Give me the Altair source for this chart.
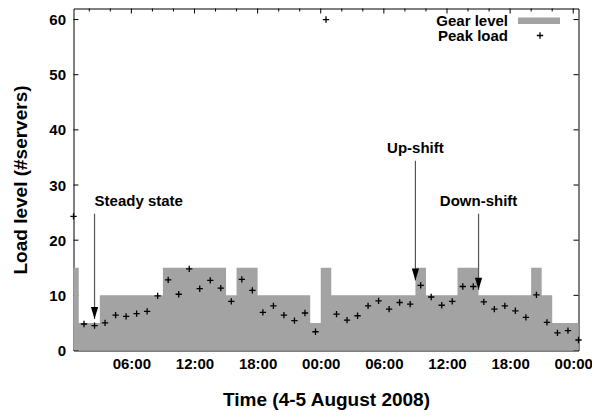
import altair as alt
import pandas as pd

# ---- data (hours since 4 Aug 2008 00:00) ----
gear_times = [0.5, 1, 3, 9, 15, 16, 18, 23, 24, 25, 33, 34, 37, 39, 44, 45, 46, 48.5]
gear_levels = [15, 5, 10, 15, 10, 15, 10, 5, 15, 10, 15, 10, 15, 10, 15, 10, 5, 5]

load_times = [0.5, 1.5, 2.5, 3.5, 4.5, 5.5, 6.5, 7.5, 8.5, 9.5, 10.5, 11.5, 12.5,
              13.5, 14.5, 15.5, 16.5, 17.5, 18.5, 19.5, 20.5, 21.5, 22.5, 23.5,
              24.5, 25.5, 26.5, 27.5, 28.5, 29.5, 30.5, 31.5, 32.5, 33.5, 34.5,
              35.5, 36.5, 37.5, 38.5, 39.5, 40.5, 41.5, 42.5, 43.5, 44.5, 45.5,
              46.5, 47.5, 48.5]
peak_load = [24.3, 4.8, 4.5, 5.0, 6.4, 6.2, 6.7, 7.1, 9.9, 12.8, 10.2, 14.8, 11.2,
             12.7, 11.3, 8.9, 12.9, 10.9, 6.9, 8.1, 6.4, 5.4, 6.8, 3.4,
             60.0, 6.6, 5.5, 6.3, 8.1, 9.0, 7.5, 8.7, 8.4, 11.8, 9.7,
             8.2, 8.9, 11.6, 11.6, 8.8, 7.5, 8.1, 7.2, 6.0, 10.1, 5.1,
             3.2, 3.6, 1.9]

x_tick_values = [6, 12, 18, 24, 30, 36, 42, 48]
x_tick_labels = ["06:00", "12:00", "18:00", "00:00", "06:00", "12:00", "18:00", "00:00"]
x_minor_ticks = [2, 4, 8, 10, 14, 16, 20, 22, 26, 28, 32, 34, 38, 40, 44, 46]
y_tick_values = [0, 10, 20, 30, 40, 50, 60]

ann_text = ["Steady state", "Up-shift", "Down-shift"]
ann_x = [2.5, 33, 39]
ann_text_y = [27.1, 36.8, 27.1]
arrow_top = [24.8, 34.4, 24.8]
arrow_tip = [5.7, 12.7, 11.0]

legend_labels = ["Gear level", "Peak load"]

# ---- layout / style ----
W, H = 505, 342
FONT = "Liberation Sans"
GRAY = "#a3a3a3"
PLUS = "M-1,0L1,0M0,-1L0,1"
HEAD = "M-0.3,-1L0.3,-1L0,0Z"

xscale = alt.Scale(domain=[0.5, 48.5], nice=False, zero=False)
yscale = alt.Scale(domain=[0, 62], nice=False, zero=True)

label_expr = "''"
for v, l in reversed(list(zip(x_tick_values, x_tick_labels))):
    label_expr = f"datum.value == {v} ? '{l}' : ({label_expr})"

x_axis = alt.Axis(values=x_tick_values, labelExpr=label_expr,
                  title="Time (4-5 August 2008)", labelPadding=6, titlePadding=19)
y_axis = alt.Axis(values=y_tick_values, title="Load level (#servers)",
                  labelPadding=8, titlePadding=18)

gear_df = pd.DataFrame({"t": gear_times, "level": gear_levels})
load_df = pd.DataFrame({"t": load_times, "load": peak_load})
ann_df = pd.DataFrame({"label": ann_text, "x": ann_x, "ty": ann_text_y,
                       "top": arrow_top, "tip": arrow_tip})
ytick_df = pd.DataFrame({"v": y_tick_values})
xtick_df = pd.DataFrame({"v": x_tick_values})
xminor_df = pd.DataFrame({"v": x_minor_ticks})

def X(field):
    return alt.X(field, scale=xscale, axis=x_axis)

def Y(field):
    return alt.Y(field, scale=yscale, axis=y_axis)

# inner ticks (gnuplot style), drawn behind the area
tick_left = alt.Chart(ytick_df).mark_rule(color="black", strokeWidth=1).encode(
    y=Y("v:Q"), x=alt.value(0), x2=alt.value(5))
tick_right = alt.Chart(ytick_df).mark_rule(color="black", strokeWidth=1).encode(
    y=Y("v:Q"), x=alt.value(W), x2=alt.value(W - 5))
tick_top = alt.Chart(xtick_df).mark_rule(color="black", strokeWidth=1).encode(
    x=X("v:Q"), y=alt.value(0), y2=alt.value(5))
tick_top_minor = alt.Chart(xminor_df).mark_rule(color="black", strokeWidth=1).encode(
    x=X("v:Q"), y=alt.value(0), y2=alt.value(3))

area = alt.Chart(gear_df).mark_area(interpolate="step-after", color=GRAY, opacity=1).encode(
    x=X("t:Q"), y=Y("level:Q"))

points = alt.Chart(load_df).mark_point(shape=PLUS, size=40, color="black",
                                       strokeWidth=1.3, filled=False, opacity=1).encode(
    x=X("t:Q"), y=Y("load:Q"))

arrows = alt.Chart(ann_df).mark_rule(color="#555555", strokeWidth=1.2).encode(
    x=X("x:Q"), y=Y("top:Q"), y2="tip:Q")
heads = alt.Chart(ann_df).mark_point(shape=HEAD, size=576, color="black",
                                     filled=True, opacity=1).encode(
    x=X("x:Q"), y=Y("tip:Q"))

txt_style = dict(font=FONT, fontWeight="bold", fontSize=15, color="black", baseline="middle")
ann_left = alt.Chart(ann_df).transform_filter(alt.datum.label == ann_text[0]).mark_text(
    align="left", **txt_style).encode(x=X("x:Q"), y=Y("ty:Q"), text="label:N")
ann_center = alt.Chart(ann_df).transform_filter(alt.datum.label != ann_text[0]).mark_text(
    align="center", **txt_style).encode(x=X("x:Q"), y=Y("ty:Q"), text="label:N")

leg1 = alt.Chart(pd.DataFrame({"label": [legend_labels[0]]})).mark_text(
    align="right", **txt_style).encode(x=alt.value(434.5), y=alt.value(12), text="label:N")
leg2 = alt.Chart(pd.DataFrame({"label": [legend_labels[1]]})).mark_text(
    align="right", **txt_style).encode(x=alt.value(434.5), y=alt.value(27), text="label:N")
leg_swatch = alt.Chart(pd.DataFrame({"label": [legend_labels[0]]})).mark_rect(color=GRAY).encode(
    x=alt.value(444.5), x2=alt.value(486.5), y=alt.value(9), y2=alt.value(15.5))
leg_plus = alt.Chart(pd.DataFrame({"label": [legend_labels[1]]})).mark_point(
    shape=PLUS, size=40, color="black", strokeWidth=1.3, filled=False, opacity=1).encode(
    x=alt.value(466.5), y=alt.value(27))

chart = alt.layer(
    tick_left, tick_right, tick_top, tick_top_minor,
    area, points, arrows, heads, ann_left, ann_center,
    leg_swatch, leg1, leg2, leg_plus,
).properties(
    width=W, height=H,
    autosize=alt.AutoSizeParams(type="none"),
    padding={"left": 65.5, "top": 0.5, "right": 13, "bottom": 60},
).configure_view(
    stroke="black", strokeWidth=1
).configure_axis(
    labelFont=FONT, labelFontWeight="bold", labelFontSize=15, labelColor="black",
    titleFont=FONT, titleFontWeight="bold", titleFontSize=19, titleColor="black",
    domain=False, ticks=False, grid=False,
)

chart.save("out.html", embed_options={"renderer": "svg", "actions": False})
